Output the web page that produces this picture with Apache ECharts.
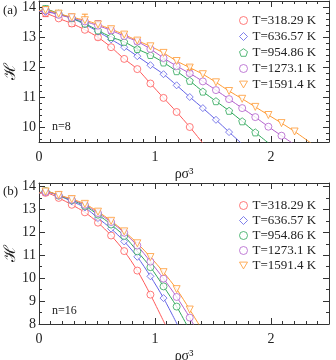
<!DOCTYPE html>
<html>
<head>
<meta charset="utf-8">
<script src="https://cdn.jsdelivr.net/npm/echarts@6/dist/echarts.min.js"></script>
<style>
  html, body { margin: 0; padding: 0; background: #fff; }
  #chart { width: 336px; height: 360px; }
</style>
</head>
<body>
<div id="chart"></div>
<script>
'use strict';

// density values where the simulations were run
var xPos = [0.0565, 0.1695, 0.2825, 0.3955, 0.5085, 0.6215, 0.7345, 0.8475, 0.9605, 1.0735,
            1.1865, 1.2995, 1.4125, 1.5255, 1.6385, 1.7515, 1.8645, 1.9775, 2.0905, 2.2035];
var names = ['T=318.29 K', 'T=636.57 K', 'T=954.86 K', 'T=1273.1 K', 'T=1591.4 K'];
var colors = ['#ff5a5a', '#6262e6', '#2ea85a', '#b25fcc', '#ff9a33'];

// ticks
var xLabels = [0, 1, 2];
var yLabelsA = [10, 11, 12, 13, 14];
var yLabelsB = [8, 9, 10, 11, 12, 13, 14];

// panel (a), n=8
var redA    = [13.80, 13.62, 13.45, 13.24, 12.99, 12.66, 12.27, 11.93, 11.45, 10.97, 10.50, 10.00];
var blueA   = [13.84, 13.76, 13.62, 13.42, 13.18, 12.92, 12.66, 12.36, 12.06, 11.76, 11.39, 11.00, 10.63, 10.24, 9.83];
var greenA  = [13.92, 13.78, 13.63, 13.45, 13.22, 13.00, 12.84, 12.60, 12.40, 12.15, 11.86, 11.54, 11.18, 10.86, 10.54, 10.19, 9.82];
var purpleA = [13.88, 13.74, 13.64, 13.52, 13.38, 13.22, 13.03, 12.85, 12.60, 12.30, 12.03, 11.79, 11.52, 11.23, 10.93, 10.63, 10.33, 10.01, 9.71];
var orangeA = [13.90, 13.78, 13.66, 13.56, 13.42, 13.26, 13.08, 12.88, 12.69, 12.47, 12.20, 11.98, 11.76, 11.49, 11.20, 10.94, 10.67, 10.40, 10.13, 9.85];
// fitted curves: value at rho=0 and a point past the bottom of the frame
var fitStartA = [13.86, 13.86, 13.87, 13.87, 13.88];
var fitEndA = [[1.45, 9.28], [1.75, 9.44], [1.98, 9.46], [2.2, 9.42], [2.35, 9.45]];
// error bars [point index, half width]
var errA = [
  [[0, 0.12], [2, 0.1], [4, 0.08]],
  [[1, 0.08], [3, 0.06]],
  [[0, 0.12], [1, 0.1], [7, 0.06]],
  [[2, 0.12], [4, 0.16], [5, 0.1], [7, 0.08], [11, 0.06]],
  [[3, 0.2], [6, 0.05], [11, 0.07]]
];

// panel (b), n=16
var redB    = [13.72, 13.50, 13.20, 12.87, 12.42, 11.86, 11.18, 10.33, 9.28];
var blueB   = [13.76, 13.60, 13.35, 13.08, 12.62, 12.16, 11.60, 10.93, 10.08, 9.13];
var greenB  = [13.80, 13.60, 13.40, 13.15, 12.77, 12.34, 11.84, 11.17, 10.48, 9.64, 8.76];
var purpleB = [13.76, 13.62, 13.42, 13.20, 12.84, 12.45, 11.98, 11.42, 10.72, 9.98, 9.18, 8.28];
var orangeB = [13.78, 13.63, 13.45, 13.24, 12.90, 12.50, 12.04, 11.52, 10.92, 10.26, 9.52, 8.63];
var fitStartB = [13.70, 13.70, 13.71, 13.71, 13.72];
var fitEndB = [[1.1, 7.85], [1.2, 7.9], [1.28, 7.9], [1.34, 7.9], [1.39, 7.88]];
var errB = [
  [[0, 0.1]],
  [],
  [[0, 0.08]],
  [],
  [[2, 0.06]]
];

var pentagon = 'path://M0,-10L9.5,-3.1L5.9,8.1L-5.9,8.1L-9.5,-3.1Z';
var triDown = 'path://M0,9L-10,-8L10,-8Z';
var symA = ['circle', 'diamond', pentagon, 'circle', triDown];
var symB = ['circle', 'diamond', 'circle', 'circle', triDown];

var FONT = 'Liberation Serif';
var AXC = '#333';

function steps(from, to, step) {
  var out = [];
  for (var v = from; v <= to + 1e-9; v += step) out.push(+v.toFixed(3));
  return out;
}

function xAxes(grid) {
  var major = { type: 'value', gridIndex: grid, min: 0, max: 2.5, splitLine: { show: false },
    axisLine: { onZero: false, lineStyle: { color: AXC } } };
  var minorTicks = steps(0, 2.5, 0.1);
  return [
    Object.assign({}, major, {
      position: 'bottom',
      axisTick: { inside: true, length: 6, customValues: xLabels, lineStyle: { color: AXC } },
      axisLabel: { customValues: xLabels, margin: 8, color: '#222', fontFamily: FONT, fontSize: 14 },
      name: 'ρσ³', nameLocation: 'middle', nameGap: 25, nameMoveOverlap: false,
      nameTextStyle: { color: '#222', fontFamily: FONT, fontSize: 14 }
    }),
    Object.assign({}, major, {
      position: 'bottom', axisLine: { show: false, onZero: false },
      axisTick: { inside: true, length: 3, customValues: minorTicks, lineStyle: { color: AXC } },
      axisLabel: { show: false }
    }),
    Object.assign({}, major, {
      position: 'top',
      axisTick: { inside: true, length: 6, customValues: xLabels, lineStyle: { color: AXC } },
      axisLabel: { show: false }
    }),
    Object.assign({}, major, {
      position: 'top', axisLine: { show: false, onZero: false },
      axisTick: { inside: true, length: 3, customValues: minorTicks, lineStyle: { color: AXC } },
      axisLabel: { show: false }
    })
  ];
}

function yAxes(grid, min, max, labels, minorStep, minorFrom) {
  var major = { type: 'value', gridIndex: grid, min: min, max: max, splitLine: { show: false },
    axisLine: { onZero: false, lineStyle: { color: AXC } } };
  var minorTicks = steps(minorFrom, max, minorStep);
  return [
    Object.assign({}, major, {
      position: 'left',
      axisTick: { inside: true, length: 6, customValues: labels, lineStyle: { color: AXC } },
      axisLabel: { customValues: labels, margin: 3, color: '#222', fontFamily: FONT, fontSize: 14 },
      // script H with a hat; rotated, the hat sits on the left
      name: '{hat|ˆ}\n{h|ℋ}', nameLocation: 'middle', nameGap: 20, nameRotate: 90,
      nameMoveOverlap: false,
      nameTextStyle: {
        color: '#222', align: 'center',
        rich: {
          hat: { fontFamily: 'DejaVu Serif', fontSize: 15, lineHeight: 7, color: '#222' },
          h: { fontFamily: 'DejaVu Serif', fontSize: 16, lineHeight: 16, color: '#222' }
        }
      }
    }),
    Object.assign({}, major, {
      position: 'left', axisLine: { show: false, onZero: false },
      axisTick: { inside: true, length: 3, customValues: minorTicks, lineStyle: { color: AXC } },
      axisLabel: { show: false }
    }),
    Object.assign({}, major, {
      position: 'right',
      axisTick: { inside: true, length: 6, customValues: labels, lineStyle: { color: AXC } },
      axisLabel: { show: false }
    }),
    Object.assign({}, major, {
      position: 'right', axisLine: { show: false, onZero: false },
      axisTick: { inside: true, length: 3, customValues: minorTicks, lineStyle: { color: AXC } },
      axisLabel: { show: false }
    })
  ];
}

function errorSeries(grid, idx, ys, errs) {
  var data = errs.map(function (e) {
    var y = ys[e[0]];
    return [xPos[e[0]], y - e[1], y + e[1]];
  });
  return {
    type: 'custom', xAxisIndex: grid * 4, yAxisIndex: grid * 4, z: 3, clip: true,
    itemStyle: { color: colors[idx] }, silent: true,
    encode: { x: 0, y: [1, 2] },
    data: data,
    renderItem: function (params, api) {
      var x = api.value(0);
      var p1 = api.coord([x, api.value(2)]);
      var p2 = api.coord([x, api.value(1)]);
      var st = { stroke: api.visual('color'), lineWidth: 1 };
      var w = 3;
      return { type: 'group', children: [
        { type: 'line', shape: { x1: p1[0], y1: p1[1], x2: p2[0], y2: p2[1] }, style: st },
        { type: 'line', shape: { x1: p1[0] - w, y1: p1[1], x2: p1[0] + w, y2: p1[1] }, style: st },
        { type: 'line', shape: { x1: p2[0] - w, y1: p2[1], x2: p2[0] + w, y2: p2[1] }, style: st }
      ] };
    }
  };
}

function panelSeries(grid, sets, starts, ends, errs, syms) {
  var out = [];
  sets.forEach(function (ys, i) {
    var pts = ys.map(function (y, k) { return [xPos[k], y]; });
    out.push({
      type: 'line', xAxisIndex: grid * 4, yAxisIndex: grid * 4, z: 2,
      data: [[0, starts[i]]].concat(pts, [ends[i]]),
      showSymbol: false, smooth: 0.3, clip: true, silent: true,
      lineStyle: { color: colors[i], width: 1 }
    });
    out.push(errorSeries(grid, i, ys, errs[i]));
    out.push({
      type: 'scatter', name: names[i], xAxisIndex: grid * 4, yAxisIndex: grid * 4, z: 4,
      data: pts, symbol: syms[i], symbolSize: 7,
      itemStyle: { color: '#fff', borderColor: colors[i], borderWidth: 1 }
    });
  });
  return out;
}

function legendFor(top, syms, gap) {
  return {
    orient: 'vertical', left: 234, top: top, itemWidth: 8, itemHeight: 8, itemGap: gap,
    selectedMode: false,
    textStyle: { color: '#222', fontFamily: FONT, fontSize: 13, lineHeight: 13 },
    data: names.map(function (n, i) {
      return { name: n, icon: syms[i], itemStyle: { color: '#fff', borderColor: colors[i], borderWidth: 1 } };
    })
  };
}

var chart = echarts.init(document.getElementById('chart'));
chart.setOption({
  animation: false,
  backgroundColor: '#fff',
  grid: [
    { left: 39, top: 1, width: 290, height: 141, outerBoundsMode: 'none' },
    { left: 39, top: 183, width: 290, height: 141, outerBoundsMode: 'none' }
  ],
  xAxis: xAxes(0).concat(xAxes(1)),
  yAxis: yAxes(0, 9.5, 14.2, yLabelsA, 0.2, 9.6).concat(yAxes(1, 8, 14.15, yLabelsB, 0.5, 8)),
  legend: [legendFor(9, symA, 3), legendFor(194, symB, 2)],
  graphic: [
    { type: 'text', left: 3, top: 4, style: { text: '(a)', font: '13px "Liberation Serif"', fill: '#222' } },
    { type: 'text', left: 3, top: 185, style: { text: '(b)', font: '13px "Liberation Serif"', fill: '#222' } },
    { type: 'text', left: 52, top: 121, style: { text: 'n=8', font: '12px "Liberation Serif"', fill: '#222' } },
    { type: 'text', left: 52, top: 305, style: { text: 'n=16', font: '12px "Liberation Serif"', fill: '#222' } }
  ],
  series: panelSeries(0, [redA, blueA, greenA, purpleA, orangeA], fitStartA, fitEndA, errA, symA)
    .concat(panelSeries(1, [redB, blueB, greenB, purpleB, orangeB], fitStartB, fitEndB, errB, symB))
});
window.addEventListener('resize', function () { chart.resize(); });
</script>
</body>
</html>
